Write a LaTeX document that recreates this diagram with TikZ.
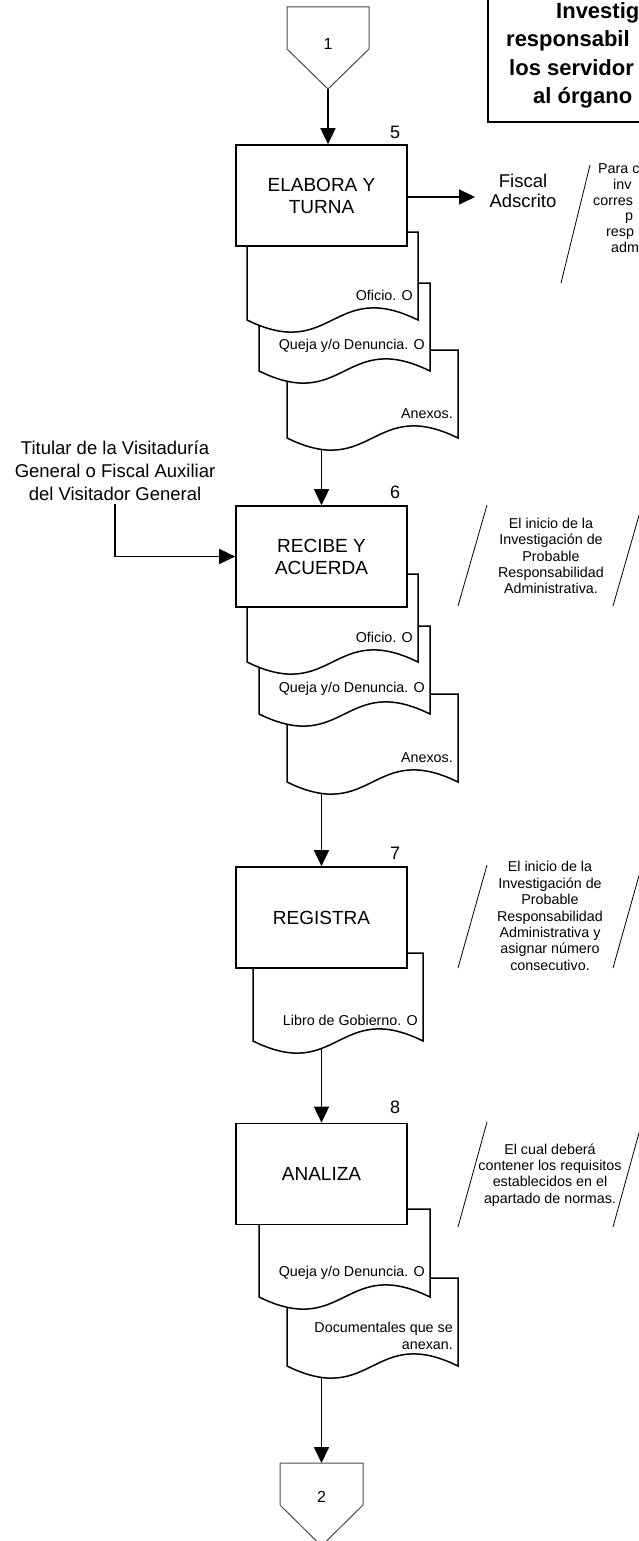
\documentclass[tikz,border=0pt]{standalone}
\usepackage{fontspec}
\setmainfont{Liberation Sans}
\usetikzlibrary{arrows.meta}
\pgfdeclarelayer{connlayer}
\pgfdeclarelayer{doclayer}
\pgfsetlayers{connlayer,doclayer,main}
\tikzset{
  procbox/.style={draw, line width=1.7pt, fill=white, minimum width=171pt, minimum height=101pt, inner sep=0pt, align=center, font=\fontsize{19}{22}\selectfont},
  numlab/.style={font=\fontsize{18}{20}\selectfont, inner sep=0pt},
  conn/.style={line width=1.7pt, -{Triangle[length=16pt,width=15pt]}},
  docline/.style={line width=1.5pt, fill=white, draw=black},
  doctext/.style={font=\fontsize{14.3}{17.5}\selectfont, inner sep=0pt, align=right, anchor=east},
  annline/.style={line width=0.8pt},
  anntext/.style={font=\fontsize{14.3}{16.4}\selectfont, inner sep=0pt, align=center},
  fragtext/.style={font=\fontsize{14.3}{16.4}\selectfont, inner sep=0pt, anchor=base west},
  conshape/.style={line width=1pt, draw=black!70, fill=white},
  context/.style={font=\fontsize{16}{18}\selectfont, inner sep=0pt},
  sidetext/.style={font=\fontsize{18.5}{23}\selectfont, inner sep=0pt, align=center},
  fisctext/.style={font=\fontsize{18.5}{20}\selectfont, inner sep=0pt, align=center},
  titletext/.style={font=\fontsize{22}{28}\selectfont\bfseries, inner sep=0pt, anchor=base west},
}
% #1 name, #2 left, #3 top, #4 right, #5 text y offset, #6 text
\newcommand{\docshape}[6]{%
  \filldraw[docline] (#2,#3) -- (#4,#3) -- (#4,#3+88)
    .. controls ({(#2+#4)/2},#3+88-42) and ({(#2+#4)/2},#3+88+42) .. (#2,#3+88) -- cycle;
  \node[doctext] (#1) at (#4-5,#3+#5) {#6};
}
\begin{document}
\begin{tikzpicture}[x=1pt,y=-1pt]
\useasboundingbox (0,0) rectangle (639,1541);
\clip (0,0) rectangle (639,1541);

% title box (cut by the page edge)
\draw[line width=2pt] (488,-10) rectangle (760,122);
\node[titletext] (t1) at (556,19) {Investig};
\node[titletext] (t2) at (506,47) {responsabil};
\node[titletext] (t3) at (509,75.5) {los servidor};
\node[titletext] (t4) at (533,104) {al órgano};

% off-page connector 1
\filldraw[conshape] (287,7) -- (369,7) -- (369,49) -- (328,89) -- (287,49) -- cycle;
\coordinate (c1tip) at (328,89);
\node[context] (c1lab) at (328,44) {1};

% process boxes
\node[procbox] (b5) at (321.5,195.5) {ELABORA Y\\TURNA};
\node[numlab] (n5) at (395,132) {5};
\node[procbox] (b6) at (321.5,556.5) {RECIBE Y\\ACUERDA};
\node[numlab] (n6) at (395,492) {6};
\node[procbox] (b7) at (321.5,917.5) {REGISTRA};
\node[numlab] (n7) at (395,853) {7};
\node[procbox] (b8) at (321.5,1174) {ANALIZA};
\node[numlab] (n8) at (395,1107) {8};

% side texts
\node[fisctext] (fisc) at (523,191) {Fiscal\\Adscrito};
\coordinate (fiscin) at (475,197);
\node[sidetext] (tit) at (115,471) {Titular de la Visitaduría\\General o Fiscal Auxiliar\\del Visitador General};
\coordinate (titfoot) at (115,504);

% off-page connector 2
\coordinate (c2top) at (321.5,1463);
\filldraw[conshape] (280,1463) -- (363,1463) -- (363,1505) -- (321.5,1546) -- (280,1505) -- cycle;
\node[context] (c2lab) at (321.5,1497) {2};

% documents
\begin{pgfonlayer}{doclayer}
\docshape{d5c}{287}{350}{458}{64}{Anexos.}
\docshape{d5b}{259}{283}{430}{63}{Queja y/o Denuncia. O}
\docshape{d5a}{247}{232}{418}{63}{Oficio. O}
\docshape{d6c}{287}{694}{458}{64}{Anexos.}
\docshape{d6b}{259}{626}{430}{63}{Queja y/o Denuncia. O}
\docshape{d6a}{247}{574}{418}{63}{Oficio. O}
\docshape{d7a}{253}{953}{423}{67}{Libro de Gobierno. O}
\docshape{d8b}{287}{1278}{458}{58}{Documentales que se\\anexan.}
\docshape{d8a}{259}{1209}{430}{64}{Queja y/o Denuncia. O}
\end{pgfonlayer}

% connectors
\begin{pgfonlayer}{connlayer}
\draw[conn] (c1tip) -- (c1tip |- b5.north);
\draw[conn] (b5.south) -- (b6.north);
\draw[conn] (b6.south) -- (b7.north);
\draw[conn] (b7.south) -- (b8.north);
\draw[conn] (b8.south) -- (c2top);
\end{pgfonlayer}
\draw[conn] (b5.east |- fiscin) -- (fiscin);
\draw[conn] (titfoot) |- (b6.west);

% annotations
\draw[annline] (590,165) -- (561,283);
\node[fragtext] (f1) at (598,174) {Para c};
\node[fragtext] (f2) at (613,189.6) {inv};
\node[fragtext] (f3) at (593,205.2) {corres};
\node[fragtext] (f4) at (625,220.8) {p};
\node[fragtext] (f5) at (606,236.4) {resp};
\node[fragtext] (f6) at (611,252) {adm};

\draw[annline] (487,505) -- (458,606);
\draw[annline] (642,505) -- (613,606);
\node[anntext] (a6) at (551,556) {El inicio de la\\Investigación de\\Probable\\Responsabilidad\\Administrativa.};

\draw[annline] (487,865) -- (458,968);
\draw[annline] (642,865) -- (613,968);
\node[anntext] (a7) at (550,916) {El inicio de la\\Investigación de\\Probable\\Responsabilidad\\Administrativa y\\asignar número\\consecutivo.};

\draw[annline] (487,1122) -- (458,1227);
\draw[annline] (642,1122) -- (613,1227);
\node[anntext] (a8) at (550,1175) {El cual deberá\\contener los requisitos\\establecidos en el\\apartado de normas.};
\end{tikzpicture}
\end{document}
